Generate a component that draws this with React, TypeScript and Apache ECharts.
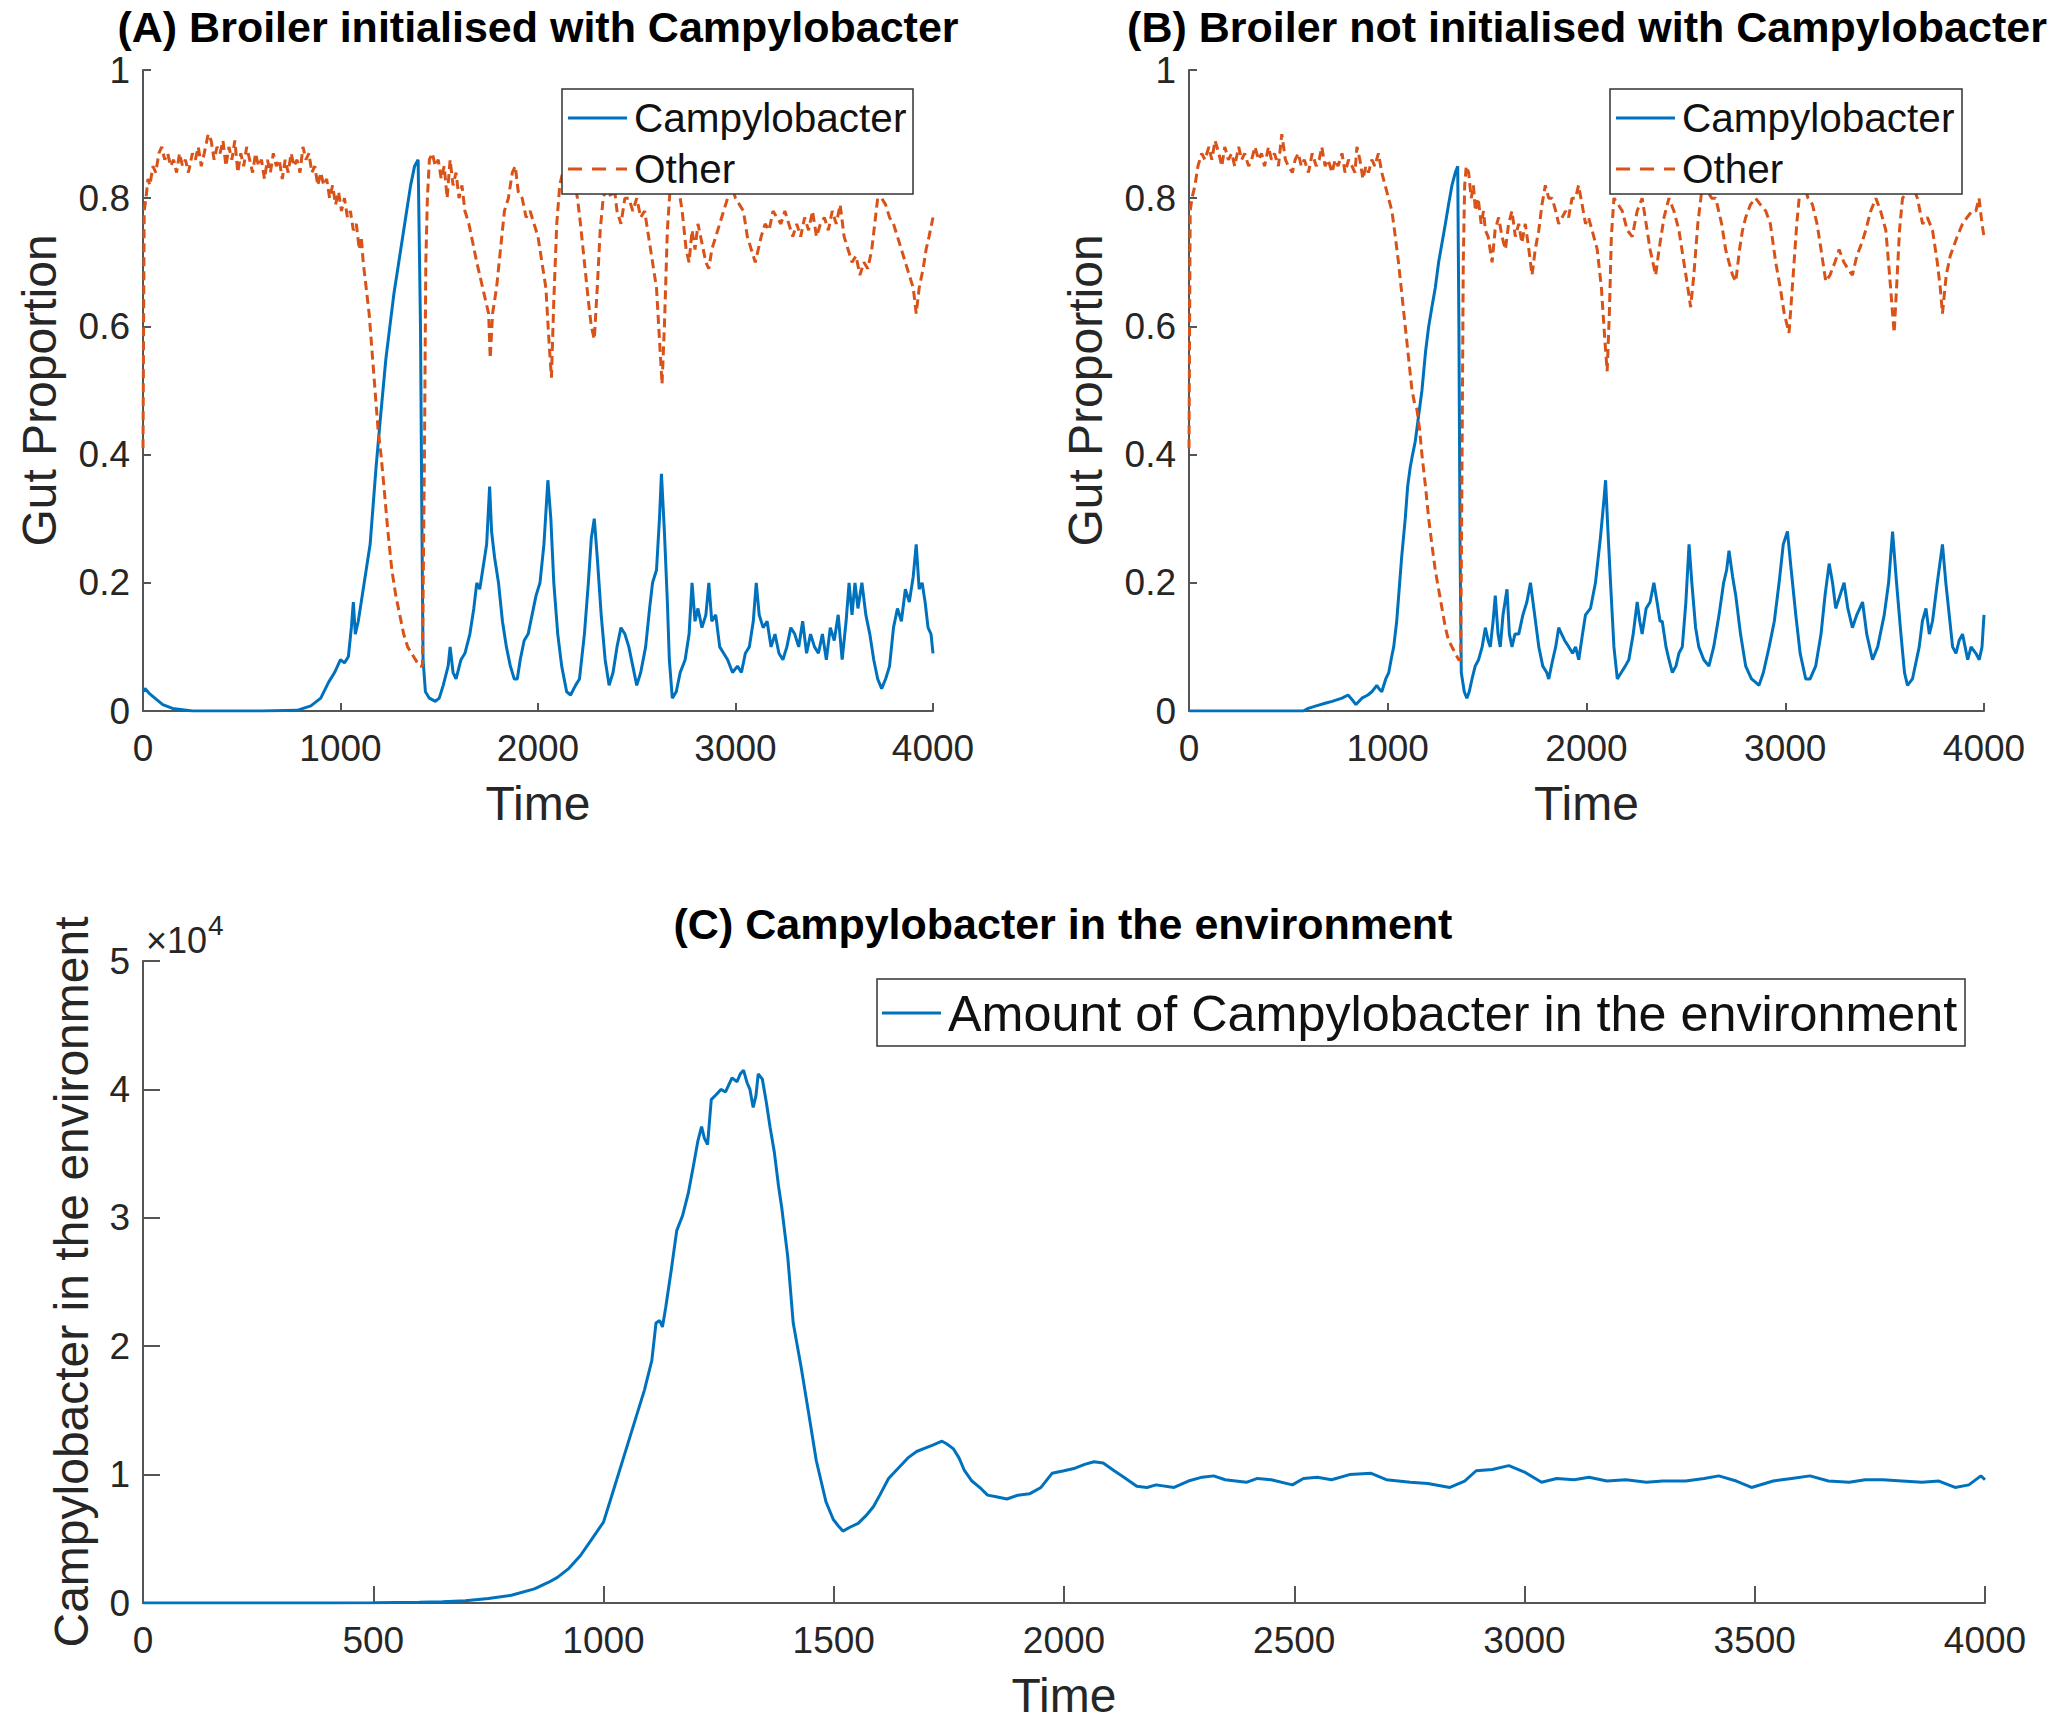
import React, { useEffect, useRef } from "react";
import * as echarts from "echarts";

const FONT = '"Liberation Sans", Arial, Helvetica, sans-serif';
const BLUE = "#0072BD";
const ORANGE = "#D95319";
const AXIS = "#262626";

const titleA = "(A) Broiler initialised with Campylobacter";
const titleB = "(B) Broiler not initialised with Campylobacter";
const titleC = "(C) Campylobacter in the environment";
const legendNamesAB = ["Campylobacter", "Other"];
const legendNameC = "Amount of Campylobacter in the environment";
const envExponent = "4";

const campyA: number[][] = [
  [0, 0.03], [10, 0.035], [30, 0.028], [60, 0.02], [100, 0.01], [150, 0.004], [250, 0], [400, 0], [600, 0],
  [780, 0.001], [850, 0.008], [900, 0.02], [940, 0.045], [970, 0.06], [1000, 0.08], [1020, 0.075], [1040, 0.085],
  [1055, 0.13], [1065, 0.17], [1075, 0.12], [1090, 0.14], [1110, 0.18], [1130, 0.22], [1150, 0.26], [1165, 0.32],
  [1180, 0.38], [1200, 0.45], [1215, 0.5], [1230, 0.55], [1250, 0.6], [1270, 0.65], [1290, 0.69], [1310, 0.73],
  [1335, 0.78], [1355, 0.82], [1375, 0.85], [1393, 0.86], [1405, 0.6], [1412, 0.3], [1418, 0.08], [1430, 0.03],
  [1450, 0.02], [1480, 0.015], [1500, 0.02], [1520, 0.04], [1545, 0.07], [1555, 0.1], [1570, 0.06], [1585, 0.05],
  [1610, 0.08], [1630, 0.09], [1655, 0.12], [1675, 0.16], [1690, 0.2], [1705, 0.19], [1720, 0.22], [1740, 0.26],
  [1755, 0.35], [1765, 0.28], [1780, 0.24], [1800, 0.2], [1820, 0.14], [1840, 0.1], [1860, 0.07], [1880, 0.05],
  [1895, 0.05], [1910, 0.08], [1930, 0.11], [1950, 0.12], [1970, 0.15], [1990, 0.18], [2010, 0.2], [2030, 0.26],
  [2050, 0.36], [2065, 0.3], [2080, 0.2], [2100, 0.12], [2120, 0.07], [2145, 0.03], [2165, 0.025], [2190, 0.04],
  [2210, 0.05], [2235, 0.12], [2255, 0.2], [2270, 0.27], [2285, 0.3], [2300, 0.24], [2320, 0.15], [2340, 0.08],
  [2360, 0.04], [2380, 0.06], [2400, 0.1], [2420, 0.13], [2440, 0.12], [2460, 0.1], [2480, 0.07], [2500, 0.04],
  [2520, 0.06], [2545, 0.1], [2565, 0.16], [2580, 0.2], [2600, 0.22], [2615, 0.3], [2625, 0.37], [2640, 0.28],
  [2655, 0.17], [2665, 0.08], [2680, 0.02], [2700, 0.03], [2720, 0.06], [2745, 0.08], [2765, 0.12], [2780, 0.2],
  [2795, 0.14], [2810, 0.16], [2830, 0.13], [2850, 0.15], [2865, 0.2], [2880, 0.14], [2900, 0.15], [2920, 0.1],
  [2940, 0.09], [2960, 0.08], [2985, 0.06], [3010, 0.07], [3030, 0.06], [3050, 0.09], [3070, 0.1], [3090, 0.14],
  [3105, 0.2], [3120, 0.15], [3140, 0.13], [3160, 0.14], [3180, 0.1], [3200, 0.12], [3220, 0.09], [3240, 0.08],
  [3260, 0.1], [3280, 0.13], [3300, 0.12], [3320, 0.1], [3340, 0.14], [3360, 0.09], [3380, 0.12], [3400, 0.1],
  [3420, 0.09], [3440, 0.12], [3460, 0.08], [3480, 0.13], [3500, 0.11], [3520, 0.15], [3540, 0.08], [3560, 0.14],
  [3575, 0.2], [3590, 0.15], [3605, 0.2], [3620, 0.16], [3640, 0.2], [3660, 0.15], [3680, 0.12], [3700, 0.08],
  [3720, 0.05], [3740, 0.035], [3760, 0.05], [3780, 0.07], [3800, 0.13], [3820, 0.16], [3840, 0.14], [3860, 0.19],
  [3880, 0.17], [3900, 0.21], [3915, 0.26], [3930, 0.19], [3945, 0.2], [3960, 0.17], [3975, 0.13], [3990, 0.12],
  [4000, 0.09],
];

const otherA: number[][] = [
  [0, 0.41], [3, 0.6], [6, 0.78], [15, 0.8], [25, 0.83], [35, 0.82], [50, 0.85], [65, 0.84], [80, 0.87], [95, 0.88],
  [110, 0.86], [125, 0.87], [140, 0.85], [155, 0.86], [170, 0.84], [185, 0.87], [200, 0.85], [215, 0.86], [230, 0.84],
  [250, 0.87], [265, 0.86], [280, 0.88], [295, 0.85], [310, 0.87], [330, 0.9], [345, 0.89], [360, 0.86], [375, 0.88],
  [390, 0.87], [405, 0.89], [420, 0.85], [435, 0.88], [450, 0.86], [465, 0.89], [480, 0.84], [495, 0.87], [510, 0.85],
  [525, 0.88], [540, 0.86], [555, 0.84], [570, 0.87], [585, 0.85], [600, 0.86], [615, 0.83], [630, 0.86], [645, 0.84],
  [660, 0.87], [675, 0.85], [690, 0.86], [705, 0.83], [720, 0.86], [735, 0.84], [750, 0.87], [765, 0.85], [780, 0.86],
  [795, 0.84], [810, 0.88], [825, 0.86], [840, 0.87], [855, 0.84], [870, 0.85], [885, 0.82], [900, 0.84], [915, 0.82],
  [930, 0.83], [945, 0.8], [960, 0.82], [975, 0.79], [990, 0.81], [1005, 0.78], [1020, 0.8], [1035, 0.77], [1050, 0.78],
  [1065, 0.75], [1080, 0.76], [1095, 0.72], [1105, 0.74], [1115, 0.7], [1130, 0.66], [1145, 0.62], [1160, 0.56],
  [1175, 0.5], [1190, 0.44], [1205, 0.4], [1220, 0.35], [1240, 0.28], [1260, 0.22], [1280, 0.18], [1300, 0.15],
  [1320, 0.12], [1340, 0.1], [1360, 0.09], [1380, 0.08], [1400, 0.07], [1415, 0.07], [1425, 0.4], [1432, 0.7],
  [1440, 0.8], [1450, 0.86], [1465, 0.87], [1480, 0.85], [1495, 0.86], [1510, 0.83], [1525, 0.85], [1540, 0.8],
  [1555, 0.86], [1570, 0.82], [1585, 0.84], [1600, 0.8], [1615, 0.82], [1630, 0.78], [1650, 0.76], [1670, 0.73],
  [1690, 0.7], [1705, 0.68], [1720, 0.66], [1735, 0.64], [1750, 0.62], [1758, 0.55], [1770, 0.62], [1790, 0.66],
  [1810, 0.72], [1830, 0.78], [1850, 0.8], [1870, 0.84], [1885, 0.85], [1900, 0.81], [1920, 0.8], [1940, 0.77],
  [1960, 0.78], [1980, 0.76], [2000, 0.74], [2020, 0.7], [2040, 0.66], [2055, 0.58], [2068, 0.52], [2080, 0.64],
  [2095, 0.76], [2110, 0.82], [2125, 0.84], [2140, 0.86], [2160, 0.85], [2180, 0.83], [2200, 0.8], [2215, 0.76],
  [2235, 0.7], [2255, 0.64], [2270, 0.6], [2285, 0.58], [2300, 0.66], [2315, 0.75], [2330, 0.8], [2350, 0.82],
  [2370, 0.8], [2385, 0.82], [2400, 0.78], [2420, 0.76], [2440, 0.8], [2460, 0.8], [2480, 0.78], [2500, 0.8],
  [2520, 0.77], [2540, 0.78], [2560, 0.74], [2580, 0.7], [2600, 0.66], [2615, 0.58], [2628, 0.51], [2640, 0.6],
  [2655, 0.75], [2670, 0.82], [2690, 0.84], [2710, 0.82], [2730, 0.78], [2750, 0.72], [2765, 0.7], [2780, 0.75],
  [2795, 0.72], [2810, 0.76], [2830, 0.73], [2850, 0.7], [2865, 0.69], [2880, 0.72], [2900, 0.74], [2920, 0.76],
  [2940, 0.78], [2960, 0.8], [2980, 0.82], [3000, 0.8], [3020, 0.79], [3040, 0.78], [3060, 0.74], [3080, 0.72],
  [3100, 0.7], [3115, 0.72], [3130, 0.74], [3150, 0.76], [3170, 0.75], [3190, 0.78], [3210, 0.77], [3230, 0.76],
  [3250, 0.78], [3270, 0.76], [3290, 0.74], [3310, 0.76], [3330, 0.74], [3350, 0.77], [3370, 0.75], [3390, 0.78],
  [3410, 0.74], [3430, 0.76], [3450, 0.77], [3470, 0.75], [3490, 0.78], [3510, 0.76], [3530, 0.79], [3550, 0.74],
  [3570, 0.72], [3590, 0.7], [3610, 0.71], [3630, 0.68], [3650, 0.7], [3670, 0.69], [3690, 0.72], [3705, 0.76],
  [3720, 0.8], [3740, 0.8], [3760, 0.79], [3780, 0.77], [3800, 0.76], [3820, 0.74], [3840, 0.72], [3860, 0.7],
  [3880, 0.68], [3900, 0.66], [3915, 0.62], [3930, 0.66], [3950, 0.69], [3965, 0.72], [3980, 0.74], [4000, 0.77],
];

const campyB: number[][] = [
  [0, 0], [300, 0], [575, 0], [600, 0.004], [640, 0.008], [685, 0.012], [720, 0.015], [770, 0.02], [800, 0.025],
  [820, 0.018], [840, 0.01], [870, 0.02], [900, 0.025], [920, 0.03], [945, 0.04], [955, 0.035], [970, 0.03],
  [990, 0.05], [1005, 0.06], [1020, 0.085], [1030, 0.1], [1045, 0.14], [1055, 0.18], [1070, 0.24], [1088, 0.3],
  [1100, 0.35], [1113, 0.38], [1125, 0.4], [1138, 0.42], [1155, 0.46], [1172, 0.5], [1190, 0.56], [1206, 0.6],
  [1222, 0.63], [1239, 0.66], [1256, 0.7], [1273, 0.73], [1290, 0.76], [1306, 0.79], [1323, 0.82], [1340, 0.84],
  [1352, 0.85], [1358, 0.6], [1364, 0.25], [1370, 0.06], [1385, 0.03], [1398, 0.02], [1410, 0.03], [1424, 0.05],
  [1440, 0.07], [1457, 0.08], [1475, 0.1], [1491, 0.13], [1505, 0.11], [1516, 0.1], [1530, 0.14], [1541, 0.18],
  [1555, 0.12], [1566, 0.1], [1580, 0.15], [1600, 0.19], [1612, 0.12], [1625, 0.1], [1640, 0.12], [1659, 0.12],
  [1680, 0.15], [1700, 0.17], [1718, 0.2], [1735, 0.16], [1760, 0.1], [1780, 0.07], [1800, 0.06], [1810, 0.05],
  [1830, 0.08], [1845, 0.1], [1860, 0.13], [1875, 0.12], [1890, 0.11], [1911, 0.1], [1930, 0.09], [1945, 0.1],
  [1961, 0.08], [1980, 0.12], [1995, 0.15], [2020, 0.16], [2045, 0.2], [2070, 0.27], [2085, 0.32], [2096, 0.36],
  [2108, 0.28], [2121, 0.2], [2138, 0.1], [2155, 0.05], [2175, 0.06], [2195, 0.07], [2213, 0.08], [2235, 0.12],
  [2255, 0.17], [2268, 0.14], [2280, 0.12], [2300, 0.16], [2320, 0.17], [2339, 0.2], [2355, 0.17], [2370, 0.14],
  [2381, 0.14], [2400, 0.1], [2415, 0.08], [2432, 0.06], [2450, 0.07], [2465, 0.09], [2482, 0.1], [2500, 0.17],
  [2516, 0.26], [2530, 0.2], [2549, 0.13], [2565, 0.1], [2590, 0.08], [2616, 0.07], [2640, 0.1], [2667, 0.15],
  [2690, 0.2], [2705, 0.22], [2717, 0.25], [2735, 0.21], [2751, 0.18], [2775, 0.12], [2801, 0.07], [2830, 0.05],
  [2850, 0.045], [2868, 0.04], [2890, 0.06], [2919, 0.1], [2945, 0.14], [2969, 0.2], [2990, 0.26], [3011, 0.28],
  [3030, 0.22], [3053, 0.15], [3075, 0.09], [3103, 0.05], [3125, 0.05], [3153, 0.07], [3180, 0.12], [3200, 0.18],
  [3221, 0.23], [3238, 0.2], [3254, 0.16], [3275, 0.18], [3296, 0.2], [3315, 0.16], [3338, 0.13], [3360, 0.15],
  [3389, 0.17], [3410, 0.12], [3439, 0.08], [3465, 0.1], [3498, 0.15], [3520, 0.2], [3540, 0.28], [3560, 0.2],
  [3582, 0.12], [3600, 0.06], [3615, 0.04], [3640, 0.05], [3674, 0.1], [3690, 0.14], [3708, 0.16], [3725, 0.12],
  [3741, 0.14], [3765, 0.2], [3791, 0.26], [3808, 0.2], [3825, 0.15], [3842, 0.1], [3859, 0.09], [3875, 0.11],
  [3892, 0.12], [3905, 0.1], [3918, 0.08], [3935, 0.1], [3959, 0.09], [3976, 0.08], [3990, 0.1], [4000, 0.15],
];

const otherB: number[][] = [
  [0, 0.41], [3, 0.6], [6, 0.78], [15, 0.8], [30, 0.82], [45, 0.85], [64, 0.87], [80, 0.86], [100, 0.88], [115, 0.86],
  [131, 0.89], [150, 0.87], [165, 0.85], [180, 0.88], [198, 0.86], [215, 0.87], [230, 0.85], [250, 0.88], [265, 0.86],
  [280, 0.87], [300, 0.85], [315, 0.86], [332, 0.88], [350, 0.86], [365, 0.87], [380, 0.85], [400, 0.88], [415, 0.86],
  [430, 0.87], [450, 0.85], [467, 0.9], [485, 0.86], [500, 0.85], [520, 0.84], [534, 0.86], [550, 0.87], [565, 0.85],
  [580, 0.86], [601, 0.84], [620, 0.87], [640, 0.85], [655, 0.86], [668, 0.88], [685, 0.85], [700, 0.86], [720, 0.84],
  [735, 0.86], [750, 0.85], [770, 0.87], [785, 0.84], [803, 0.86], [820, 0.85], [835, 0.84], [845, 0.88], [860, 0.86],
  [875, 0.83], [890, 0.85], [903, 0.84], [920, 0.86], [935, 0.85], [953, 0.87], [970, 0.84], [987, 0.82], [1004, 0.8],
  [1021, 0.78], [1038, 0.74], [1054, 0.7], [1071, 0.65], [1088, 0.6], [1105, 0.55], [1122, 0.5], [1135, 0.48],
  [1147, 0.47], [1160, 0.44], [1172, 0.4], [1190, 0.35], [1206, 0.3], [1222, 0.26], [1239, 0.22], [1256, 0.19],
  [1273, 0.16], [1290, 0.13], [1306, 0.11], [1323, 0.1], [1340, 0.09], [1357, 0.08], [1367, 0.08], [1374, 0.4],
  [1380, 0.7], [1387, 0.82], [1395, 0.85], [1407, 0.84], [1420, 0.8], [1431, 0.82], [1441, 0.78], [1455, 0.8],
  [1470, 0.76], [1482, 0.78], [1491, 0.75], [1505, 0.74], [1515, 0.72], [1525, 0.7], [1540, 0.75], [1558, 0.77],
  [1575, 0.74], [1592, 0.72], [1608, 0.76], [1625, 0.78], [1642, 0.74], [1659, 0.76], [1675, 0.73], [1692, 0.76],
  [1710, 0.72], [1726, 0.68], [1742, 0.72], [1760, 0.75], [1776, 0.79], [1793, 0.82], [1810, 0.8], [1827, 0.8],
  [1845, 0.78], [1860, 0.76], [1877, 0.77], [1895, 0.78], [1910, 0.77], [1927, 0.8], [1945, 0.8], [1960, 0.82],
  [1978, 0.79], [1995, 0.76], [2010, 0.77], [2028, 0.75], [2054, 0.72], [2075, 0.66], [2092, 0.58], [2104, 0.53],
  [2115, 0.62], [2125, 0.74], [2138, 0.8], [2160, 0.79], [2180, 0.78], [2205, 0.75], [2230, 0.74], [2255, 0.78],
  [2280, 0.8], [2300, 0.76], [2320, 0.72], [2348, 0.68], [2365, 0.72], [2390, 0.77], [2415, 0.8], [2440, 0.78],
  [2465, 0.75], [2490, 0.7], [2510, 0.66], [2524, 0.63], [2540, 0.68], [2560, 0.76], [2583, 0.82], [2610, 0.81],
  [2630, 0.8], [2650, 0.8], [2680, 0.76], [2700, 0.72], [2717, 0.7], [2735, 0.68], [2751, 0.67], [2770, 0.72],
  [2785, 0.75], [2801, 0.77], [2825, 0.79], [2851, 0.8], [2875, 0.79], [2902, 0.78], [2925, 0.76], [2952, 0.7],
  [2975, 0.66], [2995, 0.62], [3019, 0.59], [3040, 0.68], [3058, 0.76], [3070, 0.8], [3095, 0.82], [3115, 0.8],
  [3137, 0.79], [3160, 0.76], [3180, 0.72], [3204, 0.67], [3225, 0.68], [3250, 0.7], [3271, 0.72], [3295, 0.7],
  [3315, 0.69], [3338, 0.68], [3360, 0.71], [3385, 0.73], [3405, 0.75], [3430, 0.78], [3456, 0.8], [3480, 0.78],
  [3506, 0.75], [3525, 0.68], [3540, 0.62], [3548, 0.59], [3560, 0.66], [3575, 0.75], [3590, 0.8], [3615, 0.81],
  [3640, 0.82], [3665, 0.8], [3691, 0.76], [3715, 0.77], [3741, 0.75], [3765, 0.7], [3780, 0.66], [3791, 0.62],
  [3810, 0.68], [3830, 0.71], [3842, 0.72], [3865, 0.74], [3892, 0.76], [3915, 0.77], [3940, 0.78], [3959, 0.78],
  [3975, 0.8], [3990, 0.76], [4000, 0.74],
];

const envC: number[][] = [
  [0, 0], [200, 0], [400, 0], [500, 20], [600, 60], [650, 100], [700, 180], [750, 350], [800, 600], [850, 1100],
  [880, 1600], [900, 2000], [925, 2700], [950, 3700], [975, 5000], [1000, 6300], [1014, 7900], [1039, 10800],
  [1064, 13700], [1089, 16600], [1105, 18900], [1114, 21800], [1122, 22000], [1128, 21500], [1135, 23000],
  [1147, 25900], [1159, 29000], [1172, 30200], [1184, 31900], [1195, 34000], [1205, 36000], [1213, 37100],
  [1219, 36200], [1226, 35700], [1234, 39200], [1245, 39600], [1255, 40000], [1265, 39800], [1279, 40900],
  [1290, 40600], [1297, 41200], [1304, 41500], [1312, 40500], [1318, 40000], [1325, 38600], [1331, 39500],
  [1336, 41200], [1345, 40800], [1354, 38900], [1362, 37000], [1371, 35100], [1380, 32500], [1387, 30800],
  [1400, 27000], [1412, 21800], [1429, 18400], [1445, 14900], [1462, 11100], [1483, 7900], [1499, 6500],
  [1510, 6000], [1520, 5600], [1535, 5900], [1553, 6200], [1570, 6800], [1586, 7500], [1600, 8400], [1619, 9700],
  [1640, 10500], [1661, 11300], [1680, 11800], [1694, 12000], [1715, 12300], [1735, 12600], [1745, 12400],
  [1760, 12000], [1772, 11300], [1784, 10300], [1800, 9500], [1820, 8900], [1834, 8400], [1850, 8300],
  [1876, 8100], [1900, 8400], [1925, 8500], [1950, 9000], [1974, 10100], [2000, 10300], [2024, 10500],
  [2045, 10800], [2065, 11000], [2085, 10900], [2109, 10300], [2130, 9800], [2158, 9100], [2180, 9000],
  [2200, 9200], [2239, 9000], [2270, 9500], [2300, 9800], [2325, 9900], [2350, 9600], [2396, 9400], [2420, 9700],
  [2450, 9600], [2496, 9200], [2520, 9700], [2550, 9800], [2581, 9600], [2620, 10000], [2667, 10100], [2700, 9600],
  [2752, 9400], [2790, 9300], [2838, 9000], [2870, 9500], [2895, 10300], [2930, 10400], [2966, 10700],
  [3000, 10200], [3037, 9400], [3070, 9700], [3108, 9600], [3140, 9800], [3179, 9500], [3220, 9600], [3265, 9400],
  [3300, 9500], [3350, 9500], [3390, 9700], [3422, 9900], [3460, 9500], [3493, 9000], [3540, 9500], [3580, 9700],
  [3620, 9900], [3660, 9500], [3705, 9400], [3740, 9600], [3778, 9600], [3820, 9500], [3863, 9400], [3900, 9500],
  [3935, 9000], [3965, 9200], [3991, 9900], [4000, 9600],
];

const GRIDS = [
  { left: 143, top: 70, width: 790, height: 641 },
  { left: 1189, top: 70, width: 795, height: 641 },
  { left: 143, top: 961, width: 1842, height: 642 },
];

const LINE_W = 3;
const DASH = [9, 5];

function xAxisDef(gridIndex: number, interval: number, tickLen: number) {
  return {
    type: "value",
    gridIndex,
    min: 0,
    max: 4000,
    interval,
    name: "Time",
    nameLocation: "middle",
    nameGap: 68,
    nameTextStyle: { fontSize: 48, color: AXIS, fontFamily: FONT },
    axisLine: { show: true, onZero: false, lineStyle: { color: "#555", width: 2 } },
    axisTick: { show: true, inside: true, length: tickLen, lineStyle: { color: "#555", width: 2 } },
    axisLabel: { fontSize: 37, color: AXIS, fontFamily: FONT, margin: 19, formatter: (v: number) => String(v) },
    splitLine: { show: false },
  };
}

function yAxisDef(gridIndex: number, name: string, max: number, interval: number, tickLen: number, nameGap: number, fmt: (v: number) => string) {
  return {
    type: "value",
    gridIndex,
    min: 0,
    max,
    interval,
    name,
    nameLocation: "middle",
    nameGap,
    nameTextStyle: { fontSize: 48, color: AXIS, fontFamily: FONT },
    axisLine: { show: true, onZero: false, lineStyle: { color: "#555", width: 2 } },
    axisTick: { show: true, inside: true, length: tickLen, lineStyle: { color: "#555", width: 2 } },
    axisLabel: { fontSize: 37, color: AXIS, fontFamily: FONT, margin: 13, formatter: fmt },
    splitLine: { show: false },
  };
}

function lineSeries(name: string, data: number[][], idx: number, color: string, dashed: boolean) {
  return {
    type: "line",
    name,
    xAxisIndex: idx,
    yAxisIndex: idx,
    data,
    symbol: "none",
    showSymbol: false,
    clip: true,
    z: dashed ? 3 : 2,
    itemStyle: { color },
    lineStyle: { color, width: LINE_W, type: dashed ? DASH : "solid" },
    emphasis: { disabled: true },
  };
}

// legend drawn as graphic elements: box, sample lines and labels
function legendGraphic(
  box: { x: number; y: number; w: number; h: number },
  items: { name: string; color: string; dashed: boolean; y: number }[],
  lineX: number,
  fontSize: number
) {
  const els: any[] = [
    {
      type: "rect",
      z: 100,
      shape: { x: box.x, y: box.y, width: box.w, height: box.h },
      style: { fill: "#fff", stroke: "#333", lineWidth: 1.5 },
    },
  ];
  items.forEach((it) => {
    els.push({
      type: "line",
      z: 101,
      shape: { x1: lineX, y1: it.y, x2: lineX + 59, y2: it.y },
      style: { stroke: it.color, lineWidth: LINE_W, lineDash: it.dashed ? [14, 10] : null },
    });
    els.push({
      type: "text",
      z: 101,
      x: lineX + 66,
      y: it.y,
      style: { text: it.name, fontSize, fill: "#111", fontFamily: FONT, textAlign: "left", textVerticalAlign: "middle" },
    });
  });
  return els;
}

export default function App() {
  const ref = useRef<HTMLDivElement>(null);
  useEffect(() => {
    if (!ref.current) return;
    const chart = echarts.init(ref.current, undefined, { renderer: "svg" });
    const titleStyle = { fontSize: 43, fontWeight: "bold", fill: "#000", fontFamily: FONT, textAlign: "center", textVerticalAlign: "middle" };
    const option: any = {
      animation: false,
      backgroundColor: "#fff",
      grid: GRIDS.map((g) => ({ ...g, containLabel: false })),
      xAxis: [xAxisDef(0, 1000, 8), xAxisDef(1, 1000, 8), xAxisDef(2, 500, 17)],
      yAxis: [
        yAxisDef(0, "Gut Proportion", 1, 0.2, 8, 80, (v: number) => String(v)),
        yAxisDef(1, "Gut Proportion", 1, 0.2, 8, 80, (v: number) => String(v)),
        yAxisDef(2, "Campylobacter in the environment", 50000, 10000, 17, 48, (v: number) => String(v / 10000)),
      ],
      series: [
        lineSeries(legendNamesAB[0], campyA, 0, BLUE, false),
        lineSeries(legendNamesAB[1], otherA, 0, ORANGE, true),
        lineSeries(legendNamesAB[0], campyB, 1, BLUE, false),
        lineSeries(legendNamesAB[1], otherB, 1, ORANGE, true),
        lineSeries(legendNameC, envC, 2, BLUE, false),
      ],
      graphic: [
        { type: "text", x: 538, y: 27, style: { ...titleStyle, text: titleA } },
        { type: "text", x: 1587, y: 27, style: { ...titleStyle, text: titleB } },
        { type: "text", x: 1063, y: 924, style: { ...titleStyle, text: titleC } },
        { type: "text", x: 146, y: 940, style: { text: "×10", fontSize: 36, fill: AXIS, fontFamily: FONT, textAlign: "left", textVerticalAlign: "middle" } },
        { type: "text", x: 208, y: 925, style: { text: envExponent, fontSize: 28, fill: AXIS, fontFamily: FONT, textAlign: "left", textVerticalAlign: "middle" } },
        ...legendGraphic(
          { x: 562, y: 89, w: 351, h: 105 },
          [
            { name: legendNamesAB[0], color: BLUE, dashed: false, y: 118 },
            { name: legendNamesAB[1], color: ORANGE, dashed: true, y: 169 },
          ],
          568,
          40.5
        ),
        ...legendGraphic(
          { x: 1610, y: 89, w: 352, h: 105 },
          [
            { name: legendNamesAB[0], color: BLUE, dashed: false, y: 118 },
            { name: legendNamesAB[1], color: ORANGE, dashed: true, y: 169 },
          ],
          1616,
          40.5
        ),
        ...legendGraphic(
          { x: 877, y: 979, w: 1088, h: 67 },
          [{ name: legendNameC, color: BLUE, dashed: false, y: 1013 }],
          882,
          50.3
        ),
      ],
    };
    chart.setOption(option);
    return () => chart.dispose();
  }, []);
  return (
    <div
      ref={ref}
      style={{ position: "absolute", left: 0, top: 0, width: 2058, height: 1720, background: "#fff" }}
    />
  );
}
